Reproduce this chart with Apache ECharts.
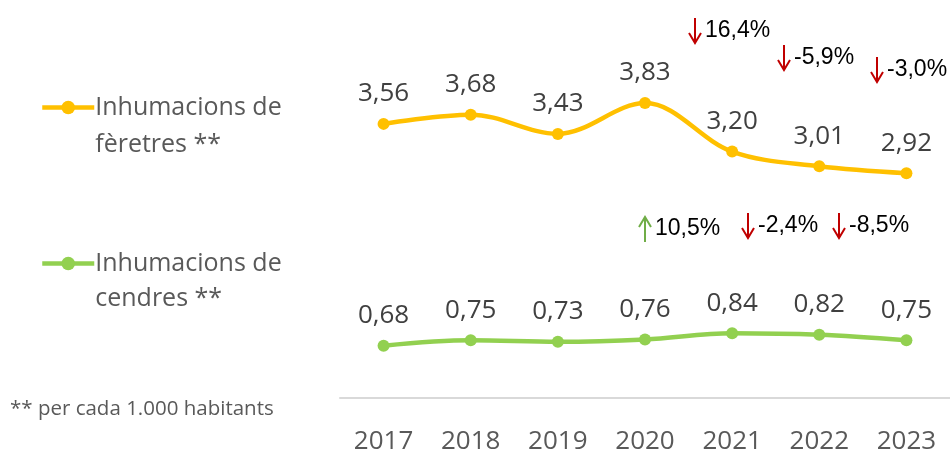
<!DOCTYPE html>
<html>
<head>
<meta charset="utf-8">
<script src="https://cdn.jsdelivr.net/npm/echarts@6/dist/echarts.min.js"></script>
<style>html,body{margin:0;padding:0;background:#fff}#c{width:950px;height:452px}</style>
</head>
<body>
<div id="c"></div>
<script>
const categories = ['2017','2018','2019','2020','2021','2022','2023'];
const feretres = [3.56, 3.68, 3.43, 3.83, 3.20, 3.01, 2.92];
const cendres = [0.68, 0.75, 0.73, 0.76, 0.84, 0.82, 0.75];
const feretresName = 'Inhumacions de fèretres **';
const cendresName = 'Inhumacions de cendres **';
const feretresChanges = ['16,4%', '-5,9%', '-3,0%'];
const feretresDirs = ['down', 'down', 'down'];
const cendresChanges = ['10,5%', '-2,4%', '-8,5%'];
const cendresDirs = ['up', 'down', 'down'];
const footnote = '** per cada 1.000 habitants';

const FONT = '"Open Sans", "Noto Sans", sans-serif';
const YEL = '#ffc000', GRN = '#92d050';

// annotation layout (pixel position: arrow centre x, vertical centre)
const feretresAnnPos = [[695, 31], [784, 58], [877, 70]];
const cendresAnnPos = [[645, 229], [748, 226], [839, 226]];

function ann(pct, dir, pos) {
  const up = dir === 'up';
  const col = up ? '#70ad47' : '#c00000';
  const s = up ? -1 : 1;
  return {
    type: 'group', x: pos[0], y: pos[1],
    children: [
      {type: 'line', shape: {x1: 0, y1: -13 * s, x2: 0, y2: 12 * s}, style: {stroke: col, lineWidth: 2}},
      {type: 'polyline', shape: {points: [[-6, 2 * s], [0, 12 * s], [6, 2 * s]]}, style: {stroke: col, lineWidth: 2, fill: null}},
      {type: 'text', x: 10, y: 0, style: {text: pct, fill: '#000', fontSize: 23, fontFamily: '"Liberation Sans", Arial, sans-serif', verticalAlign: 'middle'}}
    ]
  };
}

const graphics = [];
feretresChanges.forEach((p, i) => graphics.push(ann(p, feretresDirs[i], feretresAnnPos[i])));
cendresChanges.forEach((p, i) => graphics.push(ann(p, cendresDirs[i], cendresAnnPos[i])));
graphics.push({type: 'text', x: 10, y: 409, style: {text: footnote, fill: '#595959', fontSize: 20.5, fontFamily: FONT, verticalAlign: 'middle'}});

const fmt = v => v.value.toFixed(2).replace('.', ',');

const legendTextBase = {color: '#595959', fontSize: 25, fontFamily: FONT, padding: [0, 0, 0, -4]};
const legendCommon = {
  orient: 'vertical', left: 40, padding: 0, itemWidth: 52, itemHeight: 17, itemGap: 0,
  formatter: n => ' \n' + n.replace(' de ', ' de\n'),
  lineStyle: {width: 4.5}
};

const chart = echarts.init(document.getElementById('c'), null, {renderer: 'canvas'});
chart.setOption({
  animation: false,
  grid: {left: 340, right: 0, top: 13, bottom: 54, containLabel: false, outerBoundsMode: 'none'},
  legend: [
    Object.assign({data: [feretresName], top: 52}, legendCommon, {textStyle: Object.assign({}, legendTextBase, {lineHeight: 37})}),
    Object.assign({data: [cendresName], top: 211}, legendCommon, {textStyle: Object.assign({}, legendTextBase, {lineHeight: 35})})
  ],
  xAxis: {
    type: 'category', data: categories, boundaryGap: true,
    axisLine: {lineStyle: {color: '#d9d9d9', width: 2}},
    axisTick: {show: false},
    axisLabel: {color: '#595959', fontSize: 26, fontFamily: FONT, margin: 31}
  },
  yAxis: {type: 'value', min: 0, max: 5, show: false, splitLine: {show: false}},
  series: [
    {
      name: feretresName, type: 'line', data: feretres, smooth: 0.35,
      symbol: 'circle', symbolSize: 12,
      lineStyle: {color: YEL, width: 4.5}, itemStyle: {color: YEL},
      label: {show: true, position: 'top', distance: 11, formatter: fmt, color: '#404040', fontSize: 26, fontFamily: FONT}
    },
    {
      name: cendresName, type: 'line', data: cendres, smooth: 0.35,
      symbol: 'circle', symbolSize: 12,
      lineStyle: {color: GRN, width: 4.5}, itemStyle: {color: GRN},
      label: {show: true, position: 'top', distance: 11, formatter: fmt, color: '#404040', fontSize: 26, fontFamily: FONT}
    }
  ],
  graphic: graphics
});
</script>
</body>
</html>
